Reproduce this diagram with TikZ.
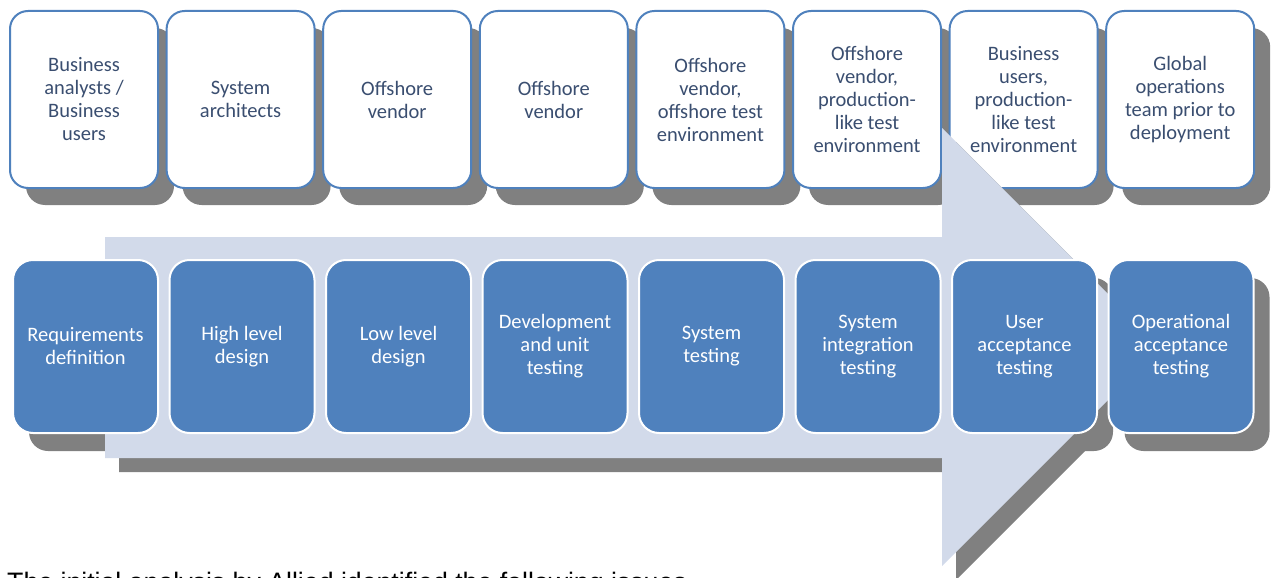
\documentclass[tikz,border=0pt]{standalone}
\usepackage{fontspec}
\setmainfont{Carlito}
\newfontfamily\capfont{Liberation Sans}
\definecolor{boxblue}{RGB}{79,129,189}
\definecolor{arrowfill}{RGB}{210,218,234}
\definecolor{shadowgray}{RGB}{128,128,128}
\definecolor{toptext}{RGB}{58,78,112}
\begin{document}
\begin{tikzpicture}[x=1pt,y=-1pt,
  topbox/.style={draw=boxblue, line width=2pt, fill=white, rounded corners=18pt,
    minimum width=148pt, minimum height=177pt, inner sep=0pt, align=center,
    text=toptext, font=\fontsize{20.5}{23}\selectfont},
  botbox/.style={draw=white, line width=2pt, fill=boxblue, rounded corners=20pt,
    minimum width=145pt, minimum height=173pt, inner sep=0pt, align=center,
    text=white, font=\fontsize{20.5}{23}\selectfont},
  boxshade/.style={fill=shadowgray, rounded corners=19pt},
  arrowshape/.style={fill=arrowfill},
  arrowshade/.style={fill=shadowgray}
]
\useasboundingbox (0,0) rectangle (1272,578);
\clip (0,0) rectangle (1272,578);

% top shadows
\foreach \i in {0,...,7}{
  \fill[boxshade] ({10+\i*156.6+16},{11+17}) rectangle ({158+\i*156.6+16},{188+17});
}
% top boxes
\node[topbox] (t1) at ({84+0*156.6},99.5) {Business\\analysts /\\Business\\users};
\node[topbox] (t2) at ({84+1*156.6},99.5) {System\\architects};
\node[topbox] (t3) at ({84+2*156.6},99.5) {Offshore\\vendor};
\node[topbox] (t4) at ({84+3*156.6},99.5) {Offshore\\vendor};
\node[topbox] (t5) at ({84+4*156.6},99.5) {Offshore\\vendor,\\offshore test\\environment};
\node[topbox] (t6) at ({84+5*156.6},99.5) {Offshore\\vendor,\\production-\\like test\\environment};
\node[topbox] (t7) at ({84+6*156.6},99.5) {Business\\users,\\production-\\like test\\environment};
\node[topbox] (t8) at ({84+7*156.6},99.5) {Global\\operations\\team prior to\\deployment};

% bottom shadows
\foreach \i in {0,...,7}{
  \fill[boxshade] ({13+\i*156.5+16},{260+18}) rectangle ({158+\i*156.5+16},{433+18});
}
% arrow shadow and arrow
\fill[arrowshade] (119,251) -- (956,251) -- (956,142) -- (1175,361) -- (956,580)
  -- (956,472) -- (119,472) -- cycle;
\fill[arrowshape] (105,237) -- (942,237) -- (942,128) -- (1161,347) -- (942,566)
  -- (942,458) -- (105,458) -- cycle;

% bottom boxes
\node[botbox] (b1) at ({85.5+0*156.5},346.5) {Requirements\\definition};
\node[botbox] (b2) at ({85.5+1*156.5},346.5) {High level\\design};
\node[botbox] (b3) at ({85.5+2*156.5},346.5) {Low level\\design};
\node[botbox] (b4) at ({85.5+3*156.5},346.5) {Development\\and unit\\testing};
\node[botbox] (b5) at ({85.5+4*156.5},346.5) {System\\testing};
\node[botbox] (b6) at ({85.5+5*156.5},346.5) {System\\integration\\testing};
\node[botbox] (b7) at ({85.5+6*156.5},346.5) {User\\acceptance\\testing};
\node[botbox] (b8) at ({85.5+7*156.5},346.5) {Operational\\acceptance\\testing};

% caption
\node[anchor=base west, inner sep=0pt, font=\capfont\fontsize{26.7}{30}\selectfont]
  (cap) at (7,591.5) {The initial analysis by Allied identified the following issues};
\end{tikzpicture}
\end{document}
